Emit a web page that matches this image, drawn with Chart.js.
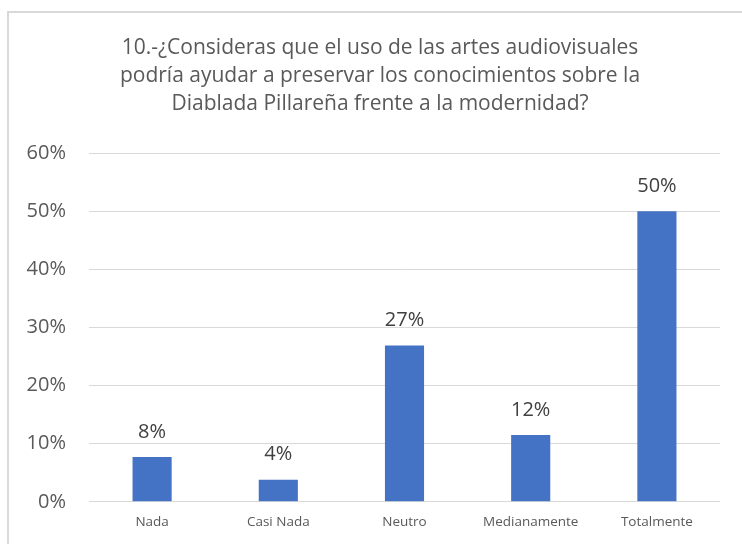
<!DOCTYPE html>
<html>
<head>
<meta charset="utf-8">
<script src="https://cdn.jsdelivr.net/npm/chart.js@4.4.1/dist/chart.umd.min.js"></script>
<style>
  html, body { margin: 0; padding: 0; background: #fff; overflow: hidden; }
  #wrap { position: relative; width: 742px; height: 544px; }
  #frame { position: absolute; left: 7px; top: 11px; width: 760px; height: 560px; border: 2px solid #d9d9d9; box-sizing: border-box; }
  canvas { position: absolute; left: 0; top: 0; }
</style>
</head>
<body>
<div id="wrap">
  <div id="frame"></div>
  <canvas id="c" width="742" height="544"></canvas>
</div>
<script>
const titleLines = [
  "10.-¿Consideras que el uso de las artes audiovisuales",
  "podría ayudar a preservar los conocimientos sobre la",
  "Diablada Pillareña frente a la modernidad?"
];
const categories = ["Nada", "Casi Nada", "Neutro", "Medianamente", "Totalmente"];
const values = [0.077, 0.038, 0.269, 0.115, 0.50];
const valueLabels = ["8%", "4%", "27%", "12%", "50%"];
const yTicks = [0, 0.1, 0.2, 0.3, 0.4, 0.5, 0.6];

const FONT = "'Open Sans', Lato, sans-serif";

const titlePlugin = {
  id: 'customTitle',
  afterDraw(chart) {
    const ctx = chart.ctx;
    ctx.save();
    ctx.font = "21px " + FONT;
    ctx.fillStyle = "#595959";
    ctx.textAlign = "center";
    ctx.textBaseline = "middle";
    titleLines.forEach((t, i) => ctx.fillText(t, 380, 48 + i * 28));
    ctx.restore();
  }
};

const dataLabels = {
  id: 'dataLabels',
  afterDatasetsDraw(chart) {
    const ctx = chart.ctx;
    const meta = chart.getDatasetMeta(0);
    ctx.save();
    ctx.font = "20px " + FONT;
    ctx.fillStyle = "#404040";
    ctx.textAlign = "center";
    ctx.textBaseline = "middle";
    meta.data.forEach((bar, i) => {
      ctx.fillText(valueLabels[i], bar.x, bar.y - 25);
    });
    ctx.restore();
  }
};

new Chart(document.getElementById('c'), {
  type: 'bar',
  data: {
    labels: categories,
    datasets: [{
      data: values,
      backgroundColor: '#4472C4',
      barPercentage: 0.31,
      categoryPercentage: 1.0
    }]
  },
  options: {
    responsive: false,
    animation: false,
    layout: { padding: { left: 16, right: 22, top: 153, bottom: 2 } },
    plugins: {
      legend: { display: false },
      tooltip: { enabled: false },
      title: { display: false }
    },
    scales: {
      x: {
        grid: { display: false, drawTicks: false },
        border: { display: false },
        ticks: { color: '#595959', font: { family: FONT, size: 13.5 }, padding: 12 }
      },
      y: {
        min: 0, max: 0.6,
        afterBuildTicks(axis) { axis.ticks = yTicks.map(v => ({ value: v })); },
        afterFit(axis) { axis.width = 73; },
        grid: { color: '#d9d9d9', lineWidth: 1, drawTicks: false },
        border: { display: false },
        ticks: {
          color: '#595959',
          font: { family: FONT, size: 20 },
          padding: 23,
          callback: v => Math.round(v * 100) + '%'
        }
      }
    }
  },
  plugins: [dataLabels, titlePlugin]
});
</script>
</body>
</html>
